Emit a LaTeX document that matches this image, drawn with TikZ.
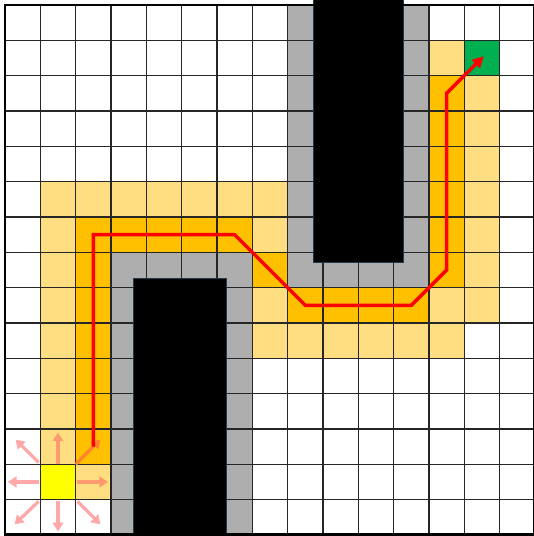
\documentclass[tikz,border=0pt]{standalone}
\usetikzlibrary{arrows.meta}
\definecolor{lightc}{HTML}{FFDE81}
\definecolor{darkc}{HTML}{FFC000}
\definecolor{grayc}{HTML}{AEAEAE}
\definecolor{goalc}{HTML}{00B050}
\definecolor{startc}{HTML}{FFFF00}
\definecolor{obsedge}{HTML}{1F3A4A}
\definecolor{pinkw}{HTML}{FFA8A8}
\definecolor{pinkl}{HTML}{FF9A6E}
\definecolor{pinkd}{HTML}{FF8030}
\tikzset{
  lightcell/.style={fill=lightc},
  darkcell/.style={fill=darkc},
  gridline/.style={draw=black!85, line width=0.9pt},
  border/.style={draw=black, line width=2.4pt},
  obstacle/.style={fill=black, draw=obsedge, line width=0.8pt},
  pathline/.style={draw=red, line width=2.8pt, -{Triangle[length=9pt,width=9pt]}},
  movearrow/.style={line width=2.6pt, -{Triangle[length=7pt,width=8.5pt]}}
}
\begin{document}
\begin{tikzpicture}[x=1cm,y=-1cm]
\useasboundingbox (-0.1415,-0.1415) rectangle (14.973,15.03);
\clip (-0.1415,-0.1415) rectangle (14.973,15.03);
\fill[white] (-0.1415,-0.1415) rectangle (14.973,15.03);
% light (open) cells
\foreach \c/\r in {12/1,13/2,13/3,13/4,13/5,13/6,13/7,13/8,
  1/5,2/5,3/5,4/5,5/5,6/5,7/5,1/6,1/7,1/8,1/9,1/10,1/11,1/12,
  7/6,7/8,12/8,7/9,8/9,9/9,10/9,11/9,12/9,2/13}
  \fill[lightcell] (\c,\r) rectangle ++(1,1);
% dark (path) cells
\foreach \c/\r in {12/2,12/3,12/4,12/5,12/6,12/7,2/6,3/6,4/6,5/6,6/6,
  2/7,2/8,2/9,2/10,2/11,2/12,7/7,8/8,9/8,10/8,11/8}
  \fill[darkcell] (\c,\r) rectangle ++(1,1);
% inflated obstacle cells
\fill[grayc] (8,0) rectangle (12,8);
\fill[grayc] (3,7) rectangle (7,15);
% start and goal
\fill[startc] (1,13) rectangle (2,14);
\fill[goalc] (13,1) rectangle (14,2);
% grid
\draw[gridline] (0,0) grid (15,15);
% obstacles
\draw[obstacle] (8.72,-0.3) rectangle (11.29,7.30);
\draw[obstacle] (3.65,7.73) rectangle (6.26,15.3);
\draw[border] (0,0) rectangle (15,15);
% neighbour arrows from start
\draw[movearrow, draw=pinkl, fill=pinkl] (1.5,13.0) -- (1.5,12.1);
\draw[movearrow, draw=pinkl, fill=pinkl] (2.05,13.5) -- (2.92,13.5);
\draw[movearrow, draw=pinkw, fill=pinkw] (0.95,13.5) -- (0.08,13.5);
\draw[movearrow, draw=pinkw, fill=pinkw] (1.5,14.05) -- (1.5,14.9);
\draw[movearrow, draw=pinkw, fill=pinkw] (0.95,12.95) -- (0.3,12.3);
\draw[movearrow, draw=pinkw, fill=pinkw] (0.95,14.05) -- (0.27,14.7);
\draw[movearrow, draw=pinkw, fill=pinkw] (2.05,14.05) -- (2.7,14.7);
\draw[movearrow, draw=pinkd, fill=pinkd] (2.0,13.0) -- (2.7,12.3);
% found path
\coordinate (p0) at (2.5,12.5);
\coordinate (p1) at (2.5,6.5);
\coordinate (p2) at (6.5,6.5);
\coordinate (p3) at (7.5,7.5);
\coordinate (p4) at (8.5,8.5);
\coordinate (p5) at (11.5,8.5);
\coordinate (p6) at (12.5,7.5);
\coordinate (p7) at (12.5,2.5);
\coordinate (p8) at (13.55,1.45);
\draw[pathline] (p0) -- (p1) -- (p2) -- (p3) -- (p4) -- (p5) -- (p6) -- (p7) -- (p8);
\end{tikzpicture}
\end{document}
